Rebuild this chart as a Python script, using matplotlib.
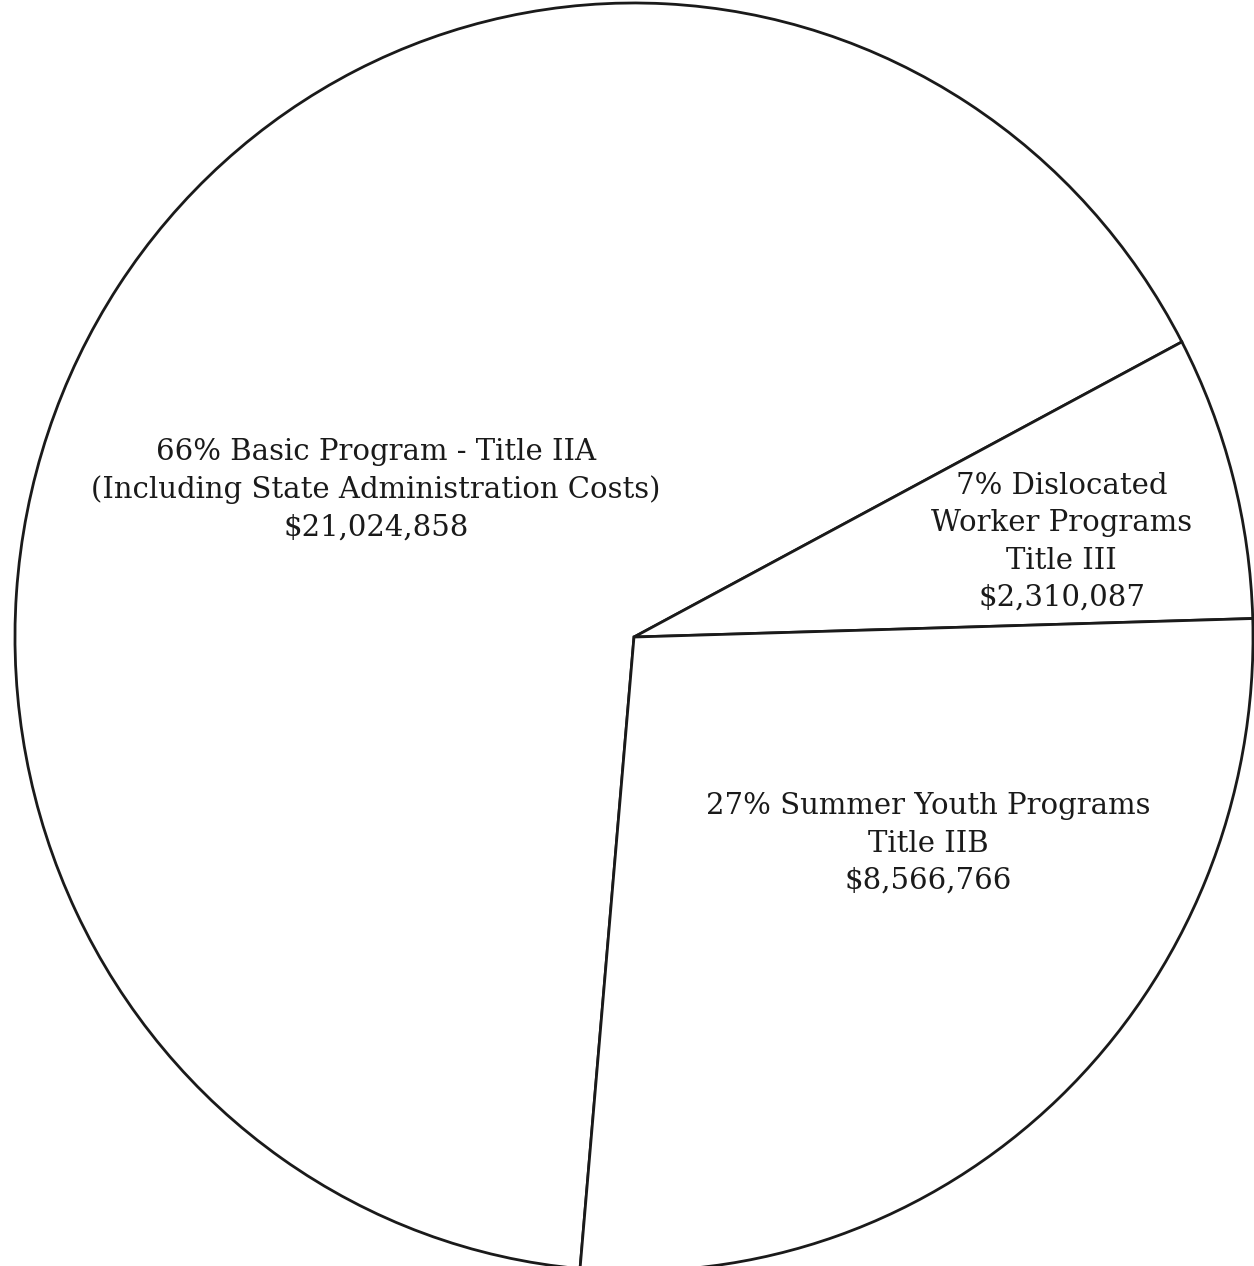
import numpy as np
import matplotlib.pyplot as plt

# Dati della torta
nomi = ['Basic Program - Title IIA\n(Including State Administration Costs)',
        'Dislocated\nWorker Programs\nTitle III',
        'Summer Youth Programs\nTitle IIB']
valori = [21024858, 2310087, 8566766]
pos_testo = [(-0.417, 0.232), (0.691, 0.150), (0.475, -0.326)]

tot = sum(valori)
etichette = []
for n, v in zip(nomi, valori):
    p = round(100 * v / tot)
    etichette.append('%d%% %s\n$%s' % (p, n, format(v, ',')))

fig = plt.figure(figsize=(12.54, 12.66), dpi=100)
ax = fig.add_axes([0, 0, 1, 1])

ax.pie(valori, startangle=265, counterclock=False,
       colors=['white'] * 3,
       wedgeprops={'edgecolor': '#1a1a1a', 'linewidth': 2.0})

ax.set_aspect('auto')
ax.set_xlim(-1.0242, 1.0016)
ax.set_ylim(-0.992, 1.0047)
ax.axis('off')

for (x, y), t in zip(pos_testo, etichette):
    ax.text(x, y, t, ha='center', va='center', family='DejaVu Serif',
            fontsize=21, color='#1a1a1a', linespacing=1.42)

fig.savefig('out.png', dpi=100, facecolor='white')
